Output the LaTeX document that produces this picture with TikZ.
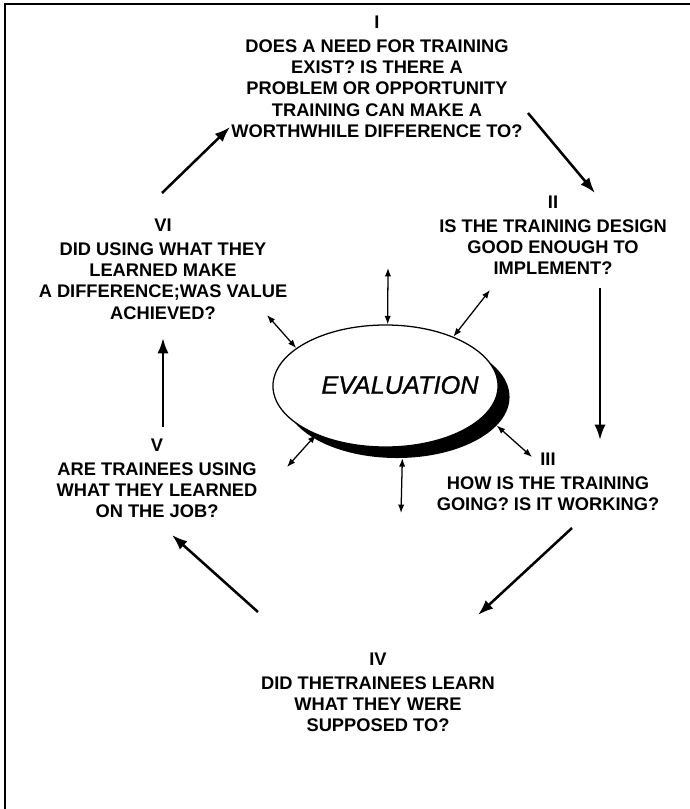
\documentclass[tikz,border=0pt]{standalone}
\usepackage{fontspec}
\setmainfont{Liberation Sans}
\newfontfamily\stagefont{Liberation Sans}
\newfontfamily\evalfont[FakeBold=1]{Liberation Sans Italic}
\usepackage{tikz}
\usetikzlibrary{arrows.meta, shapes.geometric}

\begin{document}
\begin{tikzpicture}[x=0.025cm, y=-0.025cm,
    stage/.style={align=center, inner sep=0pt, anchor=north, font=\stagefont\bfseries\fontsize{13}{15}\selectfont},
    cycle/.style={line width=1.8pt, -{Latex[length=11pt, width=8pt]}},
    link/.style={line width=0.9pt, {Latex[length=6pt, width=4.5pt]}-{Latex[length=6pt, width=4.5pt]}}]
    \useasboundingbox (0,0) rectangle (690,809);

    % Frame (left and top edges only)
    \draw[line width=1.5pt] (5,809) -- (5,4) -- (690,4);

    % Evaluation ellipse with its shadow
    \node[ellipse, fill=black, inner sep=0pt, minimum width=5.625cm, minimum height=3.05cm] (evsh) at (397,397) {};
    \node[ellipse, draw, line width=0.9pt, fill=white, inner sep=0pt, minimum width=5.625cm, minimum height=3.05cm] (ev) at (385.5,386) {};
    \node[font=\evalfont\fontsize{18}{20}\selectfont] (evlab) at (400,385) {EVALUATION};

    % Stages of the cycle
    \node[stage] (s1) at (377,16) {I\\[2pt] DOES A NEED FOR TRAINING\\ EXIST? IS THERE A\\ PROBLEM OR OPPORTUNITY\\ TRAINING CAN MAKE A\\ WORTHWHILE DIFFERENCE TO?};
    \node[stage] (s2) at (553,196) {II\\[2pt] IS THE TRAINING DESIGN\\ GOOD ENOUGH TO\\ IMPLEMENT?};
    \node[stage] (s3) at (548,453) {III\\[2pt] HOW IS THE TRAINING\\ GOING? IS IT WORKING?};
    \node[stage] (s4) at (378,653) {IV\\[2pt] DID THETRAINEES LEARN\\ WHAT THEY WERE\\ SUPPOSED TO?};
    \node[stage] (s5) at (157,439) {V\\[2pt] ARE TRAINEES USING\\ WHAT THEY LEARNED\\ ON THE JOB?};
    \node[stage] (s6) at (163,219) {VI\\[2pt] DID USING WHAT THEY\\ LEARNED MAKE\\ A DIFFERENCE;WAS VALUE\\ ACHIEVED?};

    % Ends of the cycle arrows
    \coordinate (c6a) at (162,193);  \coordinate (c6b) at (230,127);
    \coordinate (c1a) at (528,113);  \coordinate (c1b) at (595,193);
    \coordinate (c2a) at (600,288);  \coordinate (c2b) at (600,440);
    \coordinate (c3a) at (572,528);  \coordinate (c3b) at (478,615);
    \coordinate (c4a) at (258,612);  \coordinate (c4b) at (172,535);
    \coordinate (c5a) at (163,427);  \coordinate (c5b) at (163,338);

    \draw[cycle] (c6a) -- (c6b);
    \draw[cycle] (c1a) -- (c1b);
    \draw[cycle] (c2a) -- (c2b);
    \draw[cycle] (c3a) -- (c3b);
    \draw[cycle] (c4a) -- (c4b);
    \draw[cycle] (c5a) -- (c5b);

    % Outer ends of the links to the ellipse
    \coordinate (lt) at (388,268);
    \coordinate (ltr) at (490,290);
    \coordinate (ltl) at (267,315);
    \coordinate (lbl) at (287,467);
    \coordinate (lb) at (401,513);
    \coordinate (lbr) at (532,457);

    \draw[link] (lt) -- (ev.88);
    \draw[link] (ltr) -- (ev.36);
    \draw[link] (ltl) -- (ev.157);
    \draw[link] (lbl) -- (ev.215);
    \draw[link] (lb) -- (evsh.275);
    \draw[link] (lbr) -- (evsh.-16);
\end{tikzpicture}
\end{document}
